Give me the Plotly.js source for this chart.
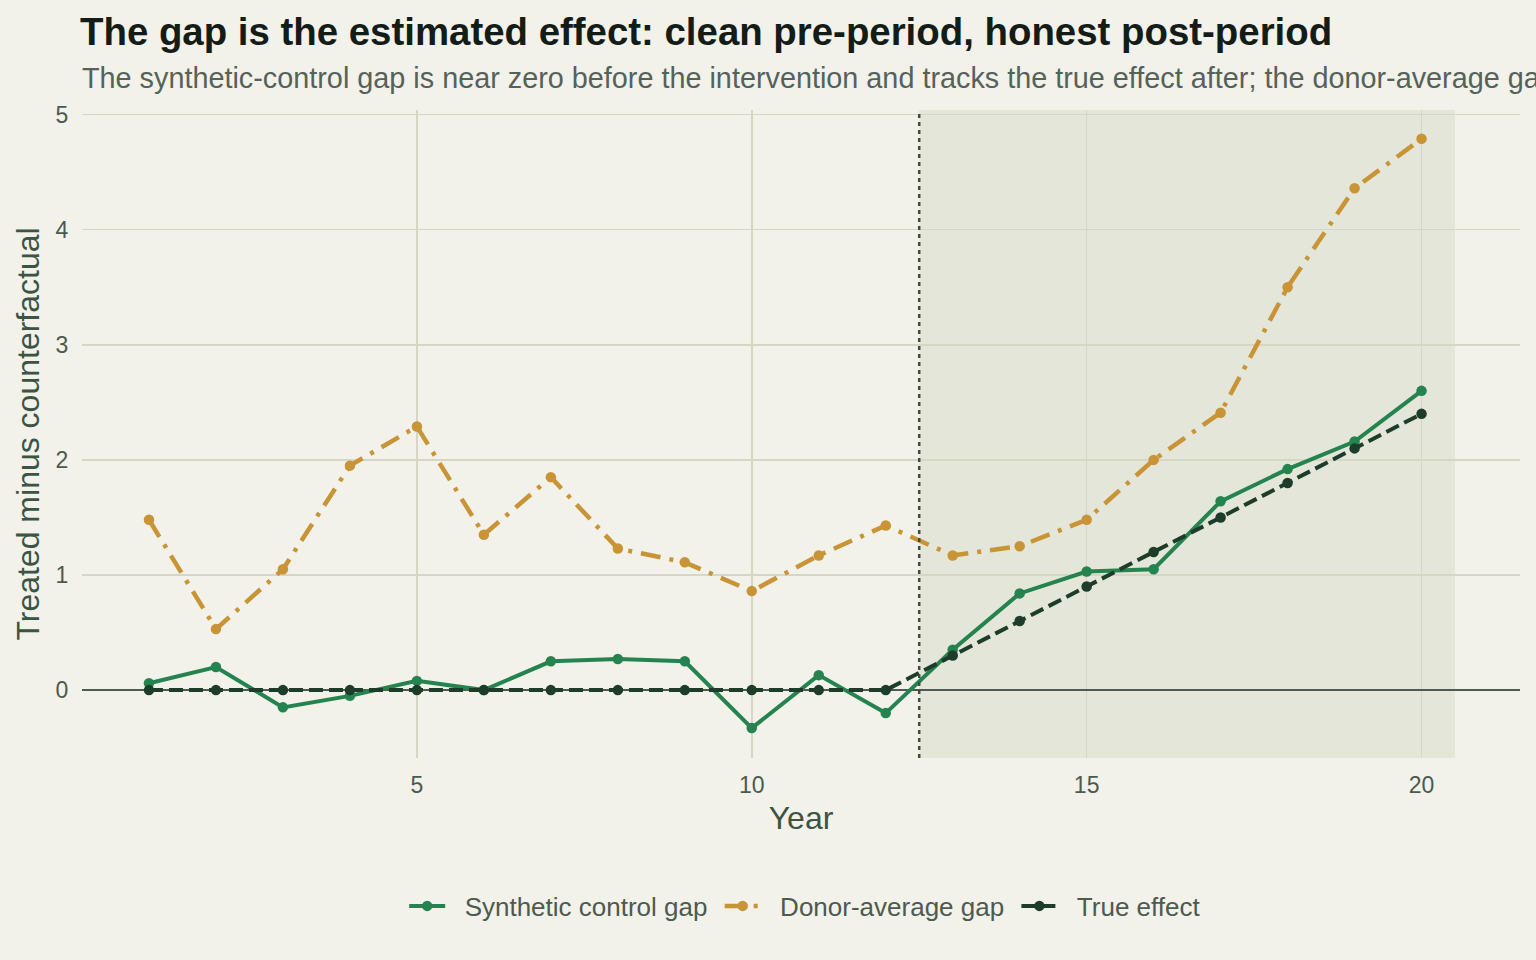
<!DOCTYPE html>
<html>
<head>
<meta charset="utf-8">
<script src="https://cdn.plot.ly/plotly-3.0.1.min.js"></script>
<style>
  html, body { margin: 0; padding: 0; background: #f2f1ea; }
  #chart { width: 1536px; height: 960px; }
</style>
</head>
<body>
<div id="chart"></div>
<script>
// Years of the panel and the intervention boundary
const years = [1, 2, 3, 4, 5, 6, 7, 8, 9, 10, 11, 12, 13, 14, 15, 16, 17, 18, 19, 20];
const interventionAt = 12.5;
const postEnd = 20.5;

// Gap series: treated unit minus each counterfactual
const syntheticGap = [0.06, 0.20, -0.15, -0.05, 0.08, 0.00, 0.25, 0.27, 0.25, -0.33,
                      0.13, -0.20, 0.35, 0.84, 1.03, 1.05, 1.64, 1.92, 2.16, 2.60];
const donorGap = [1.48, 0.53, 1.05, 1.95, 2.29, 1.35, 1.85, 1.23, 1.11, 0.86,
                  1.17, 1.43, 1.17, 1.25, 1.48, 2.00, 2.41, 3.50, 4.36, 4.79];
const trueEffect = [0, 0, 0, 0, 0, 0, 0, 0, 0, 0,
                    0, 0, 0.3, 0.6, 0.9, 1.2, 1.5, 1.8, 2.1, 2.4];

const seriesNames = ['Synthetic control gap', 'Donor-average gap', 'True effect'];
const xTicks = [5, 10, 15, 20];
const yTicks = [0, 1, 2, 3, 4, 5];

const FONT = '"Liberation Sans", Arial, Helvetica, sans-serif';
const GREEN = '#25834f';
const GOLD = '#c89436';
const DARK = '#1d3d2a';

// Pad legend labels so the swatch and label sit a little apart
const legendLabel = (s) => '&nbsp;&nbsp;' + s + '&nbsp;';

const traces = [
  {
    x: years, y: syntheticGap, name: legendLabel(seriesNames[0]),
    type: 'scatter', mode: 'lines+markers',
    line: { color: GREEN, width: 4 },
    marker: { color: GREEN, size: 10.5 }
  },
  {
    x: years, y: donorGap, name: legendLabel(seriesNames[1]),
    type: 'scatter', mode: 'lines+markers',
    line: { color: GOLD, width: 4.5, dash: '20px,9px,4px,9px' },
    marker: { color: GOLD, size: 10.5 }
  },
  {
    x: years, y: trueEffect, name: legendLabel(seriesNames[2]),
    type: 'scatter', mode: 'lines+markers',
    line: { color: DARK, width: 4, dash: '14px,6px' },
    marker: { color: DARK, size: 10.5 }
  }
];

const layout = {
  width: 1536, height: 960,
  paper_bgcolor: '#f2f1ea',
  plot_bgcolor: '#f2f1ea',
  font: { family: FONT, color: '#4a5a4e' },
  margin: { l: 82, r: 16, t: 110, b: 202 },
  showlegend: true,
  title: {
    text: '<b>The gap is the estimated effect: clean pre-period, honest post-period</b>',
    font: { family: FONT, size: 38.4, color: '#141c17' },
    x: 80 / 1536, xref: 'container', xanchor: 'left',
    y: 1 - 32 / 960, yref: 'container', yanchor: 'middle'
  },
  annotations: [{
    text: 'The synthetic-control gap is near zero before the intervention and tracks the true effect after; the donor-average gap is biased throughout.',
    xref: 'paper', yref: 'paper',
    x: -2 / 1438, y: 1 + 32 / 648,
    xanchor: 'left', yanchor: 'middle',
    showarrow: false,
    font: { family: FONT, size: 28.8, color: '#55625a' }
  }],
  xaxis: {
    range: [0, 21.47],
    tickvals: xTicks,
    ticktext: xTicks.map(String),
    showgrid: true, gridcolor: '#d6d6c4', gridwidth: 1.5,
    zeroline: false, showline: false,
    ticks: 'outside', ticklen: 6, tickcolor: 'rgba(0,0,0,0)',
    tickfont: { family: FONT, size: 23, color: '#4a5a4e' },
    title: { text: 'Year', font: { family: FONT, size: 32, color: '#3b5444' }, standoff: 10 }
  },
  yaxis: {
    range: [-0.59, 5.04],
    tickvals: yTicks,
    ticktext: yTicks.map(String),
    showgrid: true, gridcolor: '#d6d6c4', gridwidth: 1.5,
    zeroline: true, zerolinecolor: '#4f5b52', zerolinewidth: 2,
    showline: false,
    ticks: 'outside', ticklen: 8, tickcolor: 'rgba(0,0,0,0)',
    tickfont: { family: FONT, size: 23, color: '#4a5a4e' },
    title: { text: 'Treated minus counterfactual', font: { family: FONT, size: 32, color: '#3b5444' }, standoff: 6 }
  },
  shapes: [
    {
      type: 'rect', layer: 'below',
      xref: 'x', yref: 'paper',
      x0: interventionAt, x1: postEnd, y0: 0, y1: 1,
      fillcolor: '#e4e6da', line: { width: 0 }
    },
    {
      type: 'line', layer: 'above',
      xref: 'x', yref: 'paper',
      x0: interventionAt, x1: interventionAt, y0: 0, y1: 1,
      line: { color: '#3f4b43', width: 2.5, dash: '4px,4px' }
    }
  ],
  legend: {
    orientation: 'h',
    x: 0.505, xanchor: 'center',
    y: 1 - (906 - 110) / 648, yanchor: 'middle',
    bgcolor: 'rgba(0,0,0,0)',
    font: { family: FONT, size: 26, color: '#4c5a50' },
    itemwidth: 36
  }
};

Plotly.newPlot('chart', traces, layout, { displayModeBar: false, staticPlot: true });
</script>
</body>
</html>
